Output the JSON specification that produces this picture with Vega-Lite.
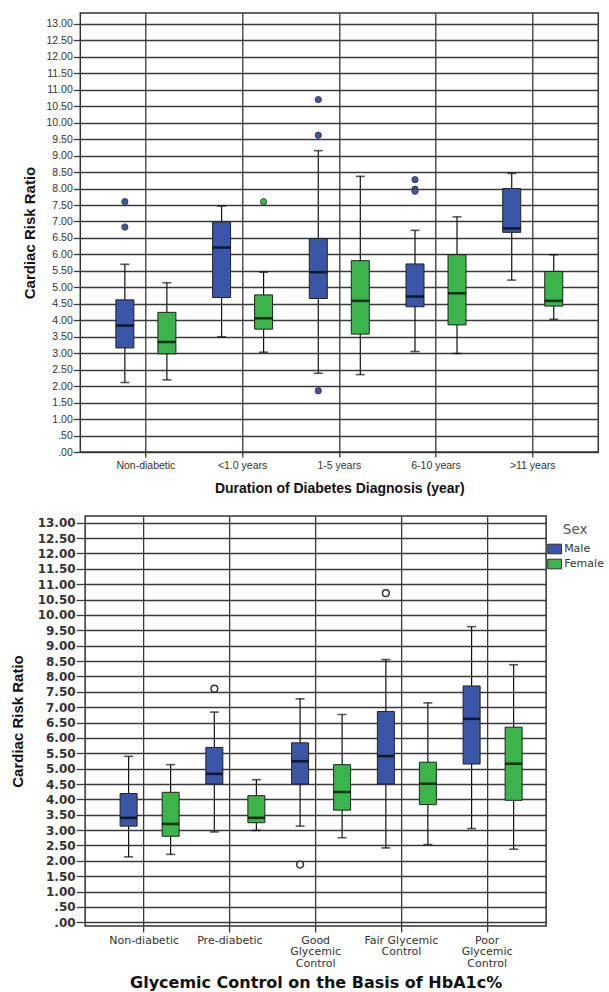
{
  "$schema": "https://vega.github.io/schema/vega-lite/v6.json",
  "background": "white",
  "padding": {"left": 9, "top": 12, "right": 0, "bottom": 0},
  "spacing": 18,
  "columns": 1,
  "center": true,
  "config": {
    "view": {"stroke": "#333333", "strokeWidth": 1.5},
    "axis": {"gridColor": "#3a3a3a", "gridWidth": 1.3, "gridOpacity": 1, "tickColor": "#3a3a3a", "tickWidth": 1.3, "domain": false, "labelColor": "#333333", "titleColor": "#111111", "labelOverlap": false}
  },
  "datasets": {
    "dur": [
      {"cat": "Non-diabetic", "sex": "Male", "low": 2.11, "q1": 3.16, "median": 3.84, "q3": 4.62, "high": 5.70},
      {"cat": "Non-diabetic", "sex": "Female", "low": 2.19, "q1": 2.98, "median": 3.34, "q3": 4.24, "high": 5.14},
      {"cat": "<1.0 years", "sex": "Male", "low": 3.50, "q1": 4.69, "median": 6.21, "q3": 6.98, "high": 7.47},
      {"cat": "<1.0 years", "sex": "Female", "low": 3.03, "q1": 3.73, "median": 4.06, "q3": 4.77, "high": 5.46},
      {"cat": "1-5 years", "sex": "Male", "low": 2.39, "q1": 4.66, "median": 5.46, "q3": 6.48, "high": 9.15},
      {"cat": "1-5 years", "sex": "Female", "low": 2.35, "q1": 3.58, "median": 4.59, "q3": 5.81, "high": 8.37},
      {"cat": "6-10 years", "sex": "Male", "low": 3.05, "q1": 4.41, "median": 4.72, "q3": 5.71, "high": 6.73},
      {"cat": "6-10 years", "sex": "Female", "low": 2.99, "q1": 3.86, "median": 4.82, "q3": 5.99, "high": 7.14},
      {"cat": ">11 years", "sex": "Male", "low": 5.22, "q1": 6.67, "median": 6.79, "q3": 8.00, "high": 8.46},
      {"cat": ">11 years", "sex": "Female", "low": 4.03, "q1": 4.43, "median": 4.59, "q3": 5.48, "high": 5.99}
    ],
    "dur_out": [
      {"cat": "Non-diabetic", "sex": "Male", "v": 7.60},
      {"cat": "Non-diabetic", "sex": "Male", "v": 6.83},
      {"cat": "<1.0 years", "sex": "Female", "v": 7.60},
      {"cat": "1-5 years", "sex": "Male", "v": 10.70},
      {"cat": "1-5 years", "sex": "Male", "v": 9.62},
      {"cat": "1-5 years", "sex": "Male", "v": 1.86},
      {"cat": "6-10 years", "sex": "Male", "v": 8.27},
      {"cat": "6-10 years", "sex": "Male", "v": 7.98},
      {"cat": "6-10 years", "sex": "Male", "v": 7.92}
    ],
    "gly": [
      {"cat": "Non-diabetic", "sex": "Male", "low": 2.13, "q1": 3.13, "median": 3.40, "q3": 4.19, "high": 5.40},
      {"cat": "Non-diabetic", "sex": "Female", "low": 2.21, "q1": 2.80, "median": 3.20, "q3": 4.23, "high": 5.13},
      {"cat": "Pre-diabetic", "sex": "Male", "low": 2.94, "q1": 4.50, "median": 4.83, "q3": 5.69, "high": 6.84},
      {"cat": "Pre-diabetic", "sex": "Female", "low": 2.99, "q1": 3.24, "median": 3.40, "q3": 4.12, "high": 4.64},
      {"cat": "Good Glycemic Control", "sex": "Male", "low": 3.13, "q1": 4.50, "median": 5.24, "q3": 5.84, "high": 7.27},
      {"cat": "Good Glycemic Control", "sex": "Female", "low": 2.75, "q1": 3.65, "median": 4.24, "q3": 5.13, "high": 6.76},
      {"cat": "Fair Glycemic Control", "sex": "Male", "low": 2.42, "q1": 4.50, "median": 5.41, "q3": 6.86, "high": 8.55},
      {"cat": "Fair Glycemic Control", "sex": "Female", "low": 2.53, "q1": 3.83, "median": 4.51, "q3": 5.21, "high": 7.14},
      {"cat": "Poor Glycemic Control", "sex": "Male", "low": 3.05, "q1": 5.15, "median": 6.62, "q3": 7.69, "high": 9.62},
      {"cat": "Poor Glycemic Control", "sex": "Female", "low": 2.38, "q1": 3.97, "median": 5.16, "q3": 6.35, "high": 8.38}
    ],
    "gly_out": [
      {"cat": "Pre-diabetic", "sex": "Male", "v": 7.60},
      {"cat": "Good Glycemic Control", "sex": "Male", "v": 1.88},
      {"cat": "Fair Glycemic Control", "sex": "Male", "v": 10.71}
    ]
  },
  "concat": [
    {
      "width": 518,
      "height": 439,
      "encoding": {
        "x": {
          "field": "cat", "type": "nominal",
          "sort": ["Non-diabetic", "<1.0 years", "1-5 years", "6-10 years", ">11 years"],
          "scale": {"paddingInner": 0, "paddingOuter": 0.178},
          "title": "Duration of Diabetes Diagnosis (year)",
          "axis": {"grid": true, "tickSize": 5, "labelPadding": 3, "labelAngle": 0, "labelFont": "Liberation Sans", "labelFontSize": 10.5, "titleFont": "Liberation Sans", "titleFontSize": 14, "titleFontWeight": "bold", "titlePadding": 11}
        },
        "xOffset": {"field": "sex", "type": "nominal", "sort": ["Male", "Female"], "scale": {"paddingInner": 0, "paddingOuter": 0.151}}
      },
      "layer": [
        {
          "layer": [
            {
              "data": {"name": "dur"},
              "mark": {"type": "rule", "color": "#111111", "strokeWidth": 1.2},
              "encoding": {
                "y": {"field": "low", "type": "quantitative", "title": "Cardiac Risk Ratio",
                  "scale": {"domain": [0, 13.33], "nice": false, "zero": false},
                  "axis": {"values": [0, 0.5, 1, 1.5, 2, 2.5, 3, 3.5, 4, 4.5, 5, 5.5, 6, 6.5, 7, 7.5, 8, 8.5, 9, 9.5, 10, 10.5, 11, 11.5, 12, 12.5, 13],
                    "labelExpr": "datum.value < 1 ? slice(format(datum.value, '.2f'), 1) : format(datum.value, '.2f')",
                    "grid": true, "tickSize": 7, "labelPadding": 1, "labelFont": "Liberation Sans", "labelFontSize": 10.5,
                    "titleFont": "Liberation Sans", "titleFontSize": 15, "titleFontWeight": "bold", "titlePadding": 9}},
                "y2": {"field": "high"}
              }
            },
            {
              "data": {"name": "dur"},
              "mark": {"type": "tick", "color": "#111111", "thickness": 1.6, "size": 9},
              "encoding": {"y": {"field": "low", "type": "quantitative", "title": "Cardiac Risk Ratio",
                  "axis": {"values": [0, 0.5, 1, 1.5, 2, 2.5, 3, 3.5, 4, 4.5, 5, 5.5, 6, 6.5, 7, 7.5, 8, 8.5, 9, 9.5, 10, 10.5, 11, 11.5, 12, 12.5, 13],
                    "labelExpr": "datum.value < 1 ? slice(format(datum.value, '.2f'), 1) : format(datum.value, '.2f')",
                    "grid": true, "tickSize": 7, "labelPadding": 1, "labelFont": "Liberation Sans", "labelFontSize": 10.5,
                    "titleFont": "Liberation Sans", "titleFontSize": 15, "titleFontWeight": "bold", "titlePadding": 9}}}
            },
            {
              "data": {"name": "dur"},
              "mark": {"type": "tick", "color": "#111111", "thickness": 1.6, "size": 9},
              "encoding": {"y": {"field": "high", "type": "quantitative", "title": "Cardiac Risk Ratio",
                  "axis": {"values": [0, 0.5, 1, 1.5, 2, 2.5, 3, 3.5, 4, 4.5, 5, 5.5, 6, 6.5, 7, 7.5, 8, 8.5, 9, 9.5, 10, 10.5, 11, 11.5, 12, 12.5, 13],
                    "labelExpr": "datum.value < 1 ? slice(format(datum.value, '.2f'), 1) : format(datum.value, '.2f')",
                    "grid": true, "tickSize": 7, "labelPadding": 1, "labelFont": "Liberation Sans", "labelFontSize": 10.5,
                    "titleFont": "Liberation Sans", "titleFontSize": 15, "titleFontWeight": "bold", "titlePadding": 9}}}
            },
            {
              "data": {"name": "dur"},
              "mark": {"type": "bar", "size": 18, "stroke": "#222222", "strokeWidth": 1},
              "encoding": {
                "y": {"field": "q1", "type": "quantitative", "title": "Cardiac Risk Ratio",
                  "axis": {"values": [0, 0.5, 1, 1.5, 2, 2.5, 3, 3.5, 4, 4.5, 5, 5.5, 6, 6.5, 7, 7.5, 8, 8.5, 9, 9.5, 10, 10.5, 11, 11.5, 12, 12.5, 13],
                    "labelExpr": "datum.value < 1 ? slice(format(datum.value, '.2f'), 1) : format(datum.value, '.2f')",
                    "grid": true, "tickSize": 7, "labelPadding": 1, "labelFont": "Liberation Sans", "labelFontSize": 10.5,
                    "titleFont": "Liberation Sans", "titleFontSize": 15, "titleFontWeight": "bold", "titlePadding": 9}},
                "y2": {"field": "q3"},
                "color": {"field": "sex", "type": "nominal", "scale": {"domain": ["Male", "Female"], "range": ["#3b56a7", "#3cb44b"]}, "legend": null}
              }
            },
            {
              "data": {"name": "dur"},
              "mark": {"type": "tick", "color": "#000000", "thickness": 2.6, "size": 18},
              "encoding": {"y": {"field": "median", "type": "quantitative", "title": "Cardiac Risk Ratio",
                  "axis": {"values": [0, 0.5, 1, 1.5, 2, 2.5, 3, 3.5, 4, 4.5, 5, 5.5, 6, 6.5, 7, 7.5, 8, 8.5, 9, 9.5, 10, 10.5, 11, 11.5, 12, 12.5, 13],
                    "labelExpr": "datum.value < 1 ? slice(format(datum.value, '.2f'), 1) : format(datum.value, '.2f')",
                    "grid": true, "tickSize": 7, "labelPadding": 1, "labelFont": "Liberation Sans", "labelFontSize": 10.5,
                    "titleFont": "Liberation Sans", "titleFontSize": 15, "titleFontWeight": "bold", "titlePadding": 9}}}
            }
          ]
        },
        {
          "data": {"name": "dur_out"},
          "mark": {"type": "point", "filled": true, "size": 40, "stroke": "#333333", "strokeWidth": 0.8, "opacity": 1},
          "encoding": {
            "y": {"field": "v", "type": "quantitative", "title": null,
              "axis": {"orient": "right", "values": [13], "labels": false, "grid": false, "domain": false, "ticks": true, "tickColor": "white", "tickOpacity": 1, "tickSize": 17}},
            "color": {"field": "sex", "type": "nominal", "scale": {"domain": ["Male", "Female"], "range": ["#3b56a7", "#3cb44b"]}, "legend": null}
          }
        }
      ],
      "resolve": {"axis": {"y": "independent"}}
    },
    {
      "width": 461,
      "height": 410,
      "encoding": {
        "x": {
          "field": "cat", "type": "nominal",
          "sort": ["Non-diabetic", "Pre-diabetic", "Good Glycemic Control", "Fair Glycemic Control", "Poor Glycemic Control"],
          "scale": {"paddingInner": 0, "paddingOuter": 0.188},
          "title": "Glycemic Control on the Basis of HbA1c%",
          "axis": {"grid": true, "tickSize": 6, "labelPadding": 2, "labelAngle": 0, "labelBaseline": "top", "labelLineHeight": 11.5, "labelFont": "DejaVu Sans", "labelFontSize": 11, "labelColor": "#333333",
            "labelExpr": "datum.label == 'Good Glycemic Control' ? ['Good', 'Glycemic', 'Control'] : datum.label == 'Fair Glycemic Control' ? ['Fair Glycemic', 'Control'] : datum.label == 'Poor Glycemic Control' ? ['Poor', 'Glycemic', 'Control'] : datum.label",
            "titleFont": "DejaVu Sans", "titleFontSize": 16, "titleFontWeight": "bold", "titlePadding": 6}
        },
        "xOffset": {"field": "sex", "type": "nominal", "sort": ["Male", "Female"], "scale": {"paddingInner": 0, "paddingOuter": 0.224}}
      },
      "layer": [
        {
          "data": {"name": "gly"},
          "mark": {"type": "rule", "color": "#111111", "strokeWidth": 1.2},
          "encoding": {
            "y": {"field": "low", "type": "quantitative", "title": "Cardiac Risk Ratio",
              "scale": {"domain": [-0.12, 13.22], "nice": false, "zero": false},
              "axis": {"values": [0, 0.5, 1, 1.5, 2, 2.5, 3, 3.5, 4, 4.5, 5, 5.5, 6, 6.5, 7, 7.5, 8, 8.5, 9, 9.5, 10, 10.5, 11, 11.5, 12, 12.5, 13],
                "labelExpr": "datum.value < 1 ? slice(format(datum.value, '.2f'), 1) : format(datum.value, '.2f')",
                "grid": true, "tickSize": 9, "labelPadding": 1, "labelFont": "DejaVu Sans", "labelFontSize": 12, "labelFontWeight": "bold", "labelColor": "#333333",
                "titleFont": "Liberation Sans", "titleFontSize": 15, "titleFontWeight": "bold", "titlePadding": 12}},
            "y2": {"field": "high"}
          }
        },
        {
          "data": {"name": "gly"},
          "mark": {"type": "tick", "color": "#111111", "thickness": 1.6, "size": 9},
          "encoding": {"y": {"field": "low", "type": "quantitative", "title": "Cardiac Risk Ratio",
              "axis": {"values": [0, 0.5, 1, 1.5, 2, 2.5, 3, 3.5, 4, 4.5, 5, 5.5, 6, 6.5, 7, 7.5, 8, 8.5, 9, 9.5, 10, 10.5, 11, 11.5, 12, 12.5, 13],
                "labelExpr": "datum.value < 1 ? slice(format(datum.value, '.2f'), 1) : format(datum.value, '.2f')",
                "grid": true, "tickSize": 9, "labelPadding": 1, "labelFont": "DejaVu Sans", "labelFontSize": 12, "labelFontWeight": "bold", "labelColor": "#333333",
                "titleFont": "Liberation Sans", "titleFontSize": 15, "titleFontWeight": "bold", "titlePadding": 12}}}
        },
        {
          "data": {"name": "gly"},
          "mark": {"type": "tick", "color": "#111111", "thickness": 1.6, "size": 9},
          "encoding": {"y": {"field": "high", "type": "quantitative", "title": "Cardiac Risk Ratio",
              "axis": {"values": [0, 0.5, 1, 1.5, 2, 2.5, 3, 3.5, 4, 4.5, 5, 5.5, 6, 6.5, 7, 7.5, 8, 8.5, 9, 9.5, 10, 10.5, 11, 11.5, 12, 12.5, 13],
                "labelExpr": "datum.value < 1 ? slice(format(datum.value, '.2f'), 1) : format(datum.value, '.2f')",
                "grid": true, "tickSize": 9, "labelPadding": 1, "labelFont": "DejaVu Sans", "labelFontSize": 12, "labelFontWeight": "bold", "labelColor": "#333333",
                "titleFont": "Liberation Sans", "titleFontSize": 15, "titleFontWeight": "bold", "titlePadding": 12}}}
        },
        {
          "data": {"name": "gly"},
          "mark": {"type": "bar", "size": 17, "stroke": "#222222", "strokeWidth": 1},
          "encoding": {
            "y": {"field": "q1", "type": "quantitative", "title": "Cardiac Risk Ratio",
              "axis": {"values": [0, 0.5, 1, 1.5, 2, 2.5, 3, 3.5, 4, 4.5, 5, 5.5, 6, 6.5, 7, 7.5, 8, 8.5, 9, 9.5, 10, 10.5, 11, 11.5, 12, 12.5, 13],
                "labelExpr": "datum.value < 1 ? slice(format(datum.value, '.2f'), 1) : format(datum.value, '.2f')",
                "grid": true, "tickSize": 9, "labelPadding": 1, "labelFont": "DejaVu Sans", "labelFontSize": 12, "labelFontWeight": "bold", "labelColor": "#333333",
                "titleFont": "Liberation Sans", "titleFontSize": 15, "titleFontWeight": "bold", "titlePadding": 12}},
            "y2": {"field": "q3"},
            "color": {"field": "sex", "type": "nominal", "scale": {"domain": ["Male", "Female"], "range": ["#3b56a7", "#3cb44b"]},
              "legend": {"title": "Sex", "orient": "right", "offset": -6, "padding": 7, "titleFont": "DejaVu Sans", "titleFontSize": 13.5, "titleFontWeight": "normal", "titleColor": "#555555", "titleAnchor": "middle", "titlePadding": 5,
                "labelFont": "DejaVu Sans", "labelFontSize": 11, "labelColor": "#333333", "labelOffset": 2,
                "symbolType": "M-1,-0.7L1,-0.7L1,0.7L-1,0.7Z", "symbolSize": 190, "symbolStrokeColor": "#333333", "symbolStrokeWidth": 1, "symbolOpacity": 1, "rowPadding": 0}}
          }
        },
        {
          "data": {"name": "gly"},
          "mark": {"type": "tick", "color": "#000000", "thickness": 2.6, "size": 17},
          "encoding": {"y": {"field": "median", "type": "quantitative", "title": "Cardiac Risk Ratio",
              "axis": {"values": [0, 0.5, 1, 1.5, 2, 2.5, 3, 3.5, 4, 4.5, 5, 5.5, 6, 6.5, 7, 7.5, 8, 8.5, 9, 9.5, 10, 10.5, 11, 11.5, 12, 12.5, 13],
                "labelExpr": "datum.value < 1 ? slice(format(datum.value, '.2f'), 1) : format(datum.value, '.2f')",
                "grid": true, "tickSize": 9, "labelPadding": 1, "labelFont": "DejaVu Sans", "labelFontSize": 12, "labelFontWeight": "bold", "labelColor": "#333333",
                "titleFont": "Liberation Sans", "titleFontSize": 15, "titleFontWeight": "bold", "titlePadding": 12}}}
        },
        {
          "data": {"name": "gly_out"},
          "mark": {"type": "point", "filled": false, "fill": "white", "size": 45, "stroke": "#333333", "strokeWidth": 1.5, "opacity": 1},
          "encoding": {"y": {"field": "v", "type": "quantitative", "title": "Cardiac Risk Ratio",
              "axis": {"values": [0, 0.5, 1, 1.5, 2, 2.5, 3, 3.5, 4, 4.5, 5, 5.5, 6, 6.5, 7, 7.5, 8, 8.5, 9, 9.5, 10, 10.5, 11, 11.5, 12, 12.5, 13],
                "labelExpr": "datum.value < 1 ? slice(format(datum.value, '.2f'), 1) : format(datum.value, '.2f')",
                "grid": true, "tickSize": 9, "labelPadding": 1, "labelFont": "DejaVu Sans", "labelFontSize": 12, "labelFontWeight": "bold", "labelColor": "#333333",
                "titleFont": "Liberation Sans", "titleFontSize": 15, "titleFontWeight": "bold", "titlePadding": 12}}}
        }
      ]
    }
  ],
  "resolve": {"scale": {"color": "independent"}, "legend": {"color": "independent"}}
}
